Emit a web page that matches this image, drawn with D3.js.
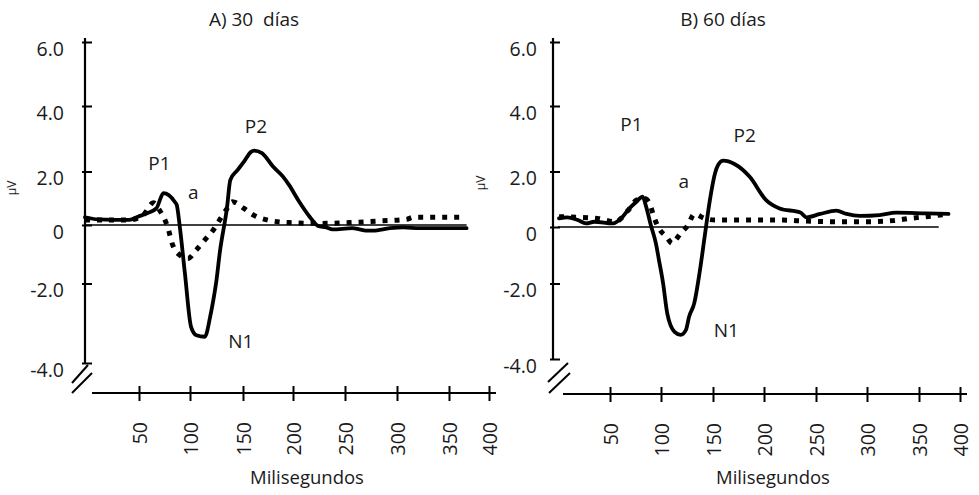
<!DOCTYPE html>
<html><head><meta charset="utf-8">
<script src="https://cdn.jsdelivr.net/npm/d3@7/dist/d3.min.js"></script>
<style>
body{margin:0;background:#fff}
svg text{font-family:"Open Sans",sans-serif;fill:#1a1a1a}
</style>
</head><body>
<svg id="c" width="979" height="495"></svg>
<script>
// ---- data ----
const xTicks = [50,100,150,200,250,300,350,400];
const yTicks = [6,4,2,0,-2,-4];
const yTickLabels = ["6.0","4.0","2.0","0","-2.0","-4.0"];
const titles = ["A) 30  días","B) 60 días"];
const xLabel = "Milisegundos";
const yLabel = "µV";
const peakLabels = ["P1","a","P2","N1"];

// Panel A (30 días)
const timeA_solid = [0,12,41,49,58,67,74,85,87,90,95,101,106,114,119,122,125,128,135,138,145,151,158,161,169,180,190,196,206,216,224,232,238,257,264,270,277,293,306,322,372];
const voltA_solid = [0.29,0.21,0.19,0.31,0.44,0.62,1.19,0.87,0.75,-0.06,-1.65,-3.09,-3.30,-3.34,-2.84,-2.42,-1.88,-0.97,0.68,1.68,2.05,2.30,2.60,2.64,2.56,2.15,1.81,1.50,0.87,0.31,-0.03,-0.08,-0.15,-0.11,-0.15,-0.19,-0.19,-0.11,-0.08,-0.11,-0.11];
const timeA_dot = [0,41,54,64,70,78,83,90,98,106,114,122,128,135,140,151,161,174,196,228,254,283,309,316,364];
const voltA_dot = [0.19,0.19,0.37,0.83,0.56,-0.06,-0.68,-1.03,-1.14,-0.85,-0.51,-0.17,0.19,0.62,0.87,0.62,0.36,0.19,0.09,0.06,0.09,0.15,0.21,0.29,0.29];
const labelTimeA = [70,103,163,148];
const labelVoltA = [2.26,1.23,3.39,-3.45];
const zeroEndA = 372;

// Panel B (60 días)
const timeB_solid = [1,9,19,27,35,53,61,69,76,82,85,90,95,98,102,106,113,119,124,127,132,137,142,147,152,155,160,171,186,202,215,235,241,254,270,280,293,312,328,359,386];
const voltB_solid = [0.31,0.35,0.25,0.13,0.19,0.13,0.31,0.67,0.91,1.09,0.79,0.07,-0.58,-1.17,-1.99,-2.79,-3.28,-3.36,-3.23,-2.88,-2.52,-1.64,-0.34,0.97,1.94,2.20,2.33,2.23,1.81,0.97,0.67,0.52,0.35,0.47,0.59,0.47,0.40,0.43,0.52,0.49,0.47];
const timeB_dot = [1,38,55,68,76,84,90,93,98,105,111,114,119,126,132,142,152,186,218,235,267,299,325,341,367,386];
const voltB_dot = [0.37,0.31,0.19,0.61,0.97,1.03,0.73,0.37,-0.05,-0.34,-0.58,-0.46,-0.22,0.07,0.47,0.31,0.25,0.25,0.25,0.22,0.19,0.19,0.23,0.31,0.40,0.47];
const labelTimeB = [71,122,181,163];
const labelVoltB = [3.43,1.66,3.11,-3.23];
const zeroEndB = 374;

// ---- layout ----
const svg = d3.select("#c");
const xDomain = [0].concat(xTicks);
const yDomain = [-4,-2,0,2,4,6];
const FONT = '"Open Sans",sans-serif';

const panels = [
  {title: titles[0], titleX: 254,
   xRange: [85,139,190,243,293,345,397,449,489], yRange: [363,283.5,225,171.5,106,42],
   axisX: 85, axisY: 393, xAxisStart: 92, xAxisEnd: 496, yLabOff: -21, muX: 12, muY: 188, xLabX: 307,
   brk: [[-13,20,3,2],[-13,30,7,10]],
   solid: [timeA_solid, voltA_solid], dot: [timeA_dot, voltA_dot],
   lab: [labelTimeA, labelVoltA], zeroEnd: zeroEndA},
  {title: titles[1], titleX: 723,
   xRange: [558,610,661,713,764,816,867,919,960], yRange: [359,283.5,227,171.5,106,42],
   axisX: 553, axisY: 394, xAxisStart: 563, xAxisEnd: 967, yLabOff: -16, muX: 481, muY: 183, xLabX: 773,
   brk: [[-5,23,15,4],[-4,34,17,14]],
   solid: [timeB_solid, voltB_solid], dot: [timeB_dot, voltB_dot],
   lab: [labelTimeB, labelVoltB], zeroEnd: zeroEndB}
];

panels.forEach(p => {
  const x = d3.scaleLinear().domain(xDomain).range(p.xRange);
  const y = d3.scaleLinear().domain(yDomain).range(p.yRange);
  const g = svg.append("g");

  // title
  g.append("text").attr("x", p.titleX).attr("y", 26).attr("text-anchor","middle")
    .style("font-size","19px").style("white-space","pre").text(p.title);

  // zero line
  g.append("line").attr("x1", x(0)).attr("x2", x(p.zeroEnd))
    .attr("y1", y(0)).attr("y2", y(0)).attr("stroke","#000").attr("stroke-width",1.3);

  // y axis
  const ya = d3.axisLeft(y).tickValues(yTicks).tickFormat((d,i)=>yTickLabels[i]);
  const yg = g.append("g").attr("transform",`translate(${p.axisX},0)`).call(ya);
  yg.select(".domain").remove();
  yg.selectAll(".tick line").attr("x1",-3).attr("x2",7).attr("stroke","#000").attr("stroke-width",2);
  yg.selectAll(".tick text").attr("x",p.yLabOff).attr("dy","0.68em")
    .style("font-size","19.5px").style("font-family",FONT).attr("fill","#1a1a1a");
  g.append("line").attr("x1",p.axisX).attr("x2",p.axisX).attr("y1",y(6)-4).attr("y2",y(-4))
    .attr("stroke","#000").attr("stroke-width",2.2);

  // axis break marks
  const yEnd = y(-4);
  p.brk.forEach(b => {
    g.append("line").attr("x1",p.axisX+b[0]).attr("y1",yEnd+b[1]).attr("x2",p.axisX+b[2]).attr("y2",yEnd+b[3])
      .attr("stroke","#000").attr("stroke-width",2);
  });

  // x axis
  const xa = d3.axisBottom(x).tickValues(xTicks).tickFormat(d3.format("d"));
  const xg = g.append("g").attr("transform",`translate(0,${p.axisY})`).call(xa);
  xg.select(".domain").remove();
  xg.selectAll(".tick line").attr("y1",-7).attr("y2",8).attr("stroke","#000").attr("stroke-width",2);
  xg.selectAll(".tick text").attr("transform","rotate(-90)").attr("x",-29).attr("y",0).attr("dy","0.36em")
    .attr("text-anchor","end").style("font-size","19.5px").style("font-family",FONT).attr("fill","#1a1a1a");
  g.append("line").attr("x1",p.xAxisStart).attr("x2",p.xAxisEnd).attr("y1",p.axisY).attr("y2",p.axisY)
    .attr("stroke","#000").attr("stroke-width",2.2);

  g.append("text").attr("x",p.xLabX).attr("y",484).attr("text-anchor","middle")
    .style("font-size","18.5px").text(xLabel);

  // µV label
  g.append("text").attr("transform",`translate(${p.muX},${p.muY}) rotate(-90)`).attr("text-anchor","middle")
    .attr("dy","0.35em").style("font-size","12px").text(yLabel);

  // curves
  const line = d3.line().x(d=>x(d[0])).y(d=>y(d[1])).curve(d3.curveMonotoneX);
  const dotData = p.dot[0].map((t,i)=>[t,p.dot[1][i]]);
  const solidData = p.solid[0].map((t,i)=>[t,p.solid[1][i]]);
  g.append("path").attr("d",line(dotData)).attr("fill","none").attr("stroke","#000")
    .attr("stroke-width",5).attr("stroke-dasharray","5,7");
  g.append("path").attr("d",line(solidData)).attr("fill","none").attr("stroke","#000")
    .attr("stroke-width",3.8).attr("stroke-linejoin","round").attr("stroke-linecap","round");

  // peak labels
  peakLabels.forEach((t,i)=>{
    g.append("text").attr("x",x(p.lab[0][i])).attr("y",y(p.lab[1][i])).attr("dy","0.35em")
      .attr("text-anchor","middle").style("font-size","19px").text(t);
  });
});
</script>
</body></html>
